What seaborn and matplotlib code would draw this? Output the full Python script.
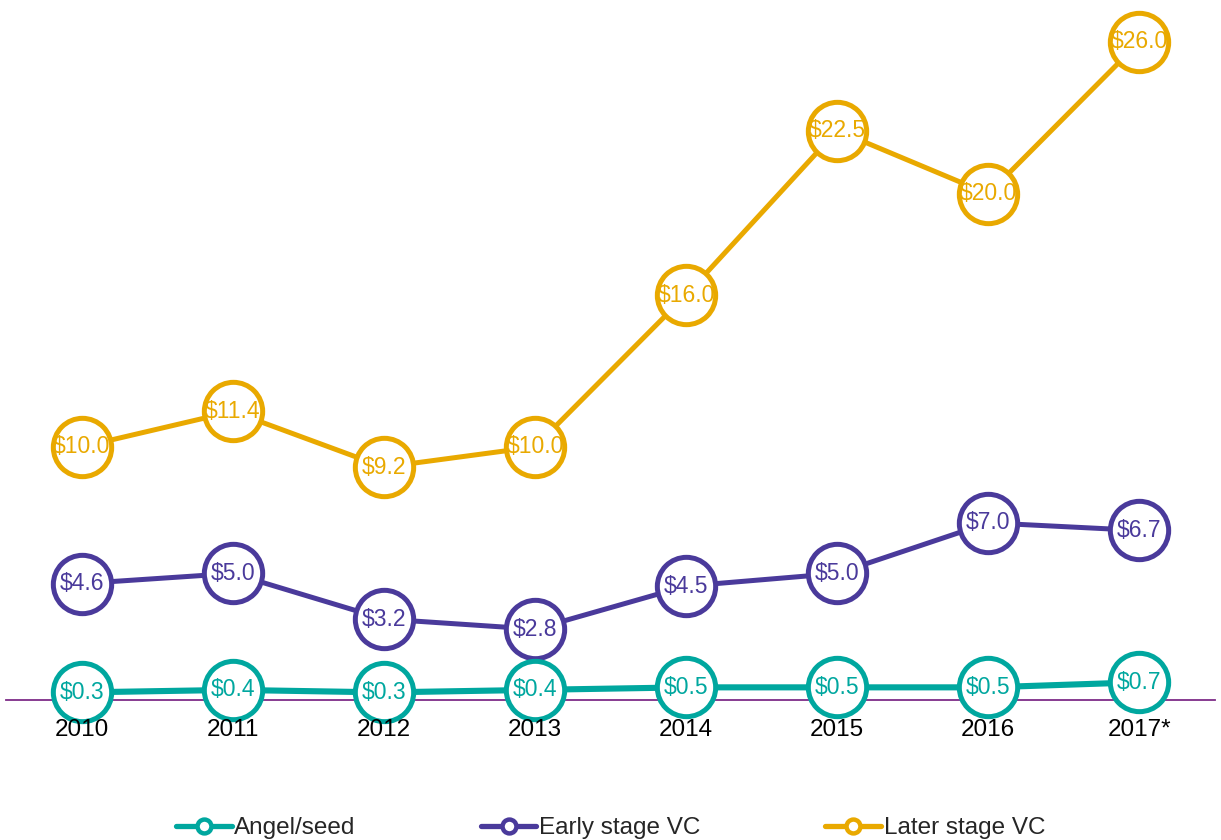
import numpy as np
import pandas as pd
import matplotlib
matplotlib.use("Agg")
import matplotlib.pyplot as plt
from matplotlib.lines import Line2D
import seaborn as sns

years = ["2010", "2011", "2012", "2013", "2014", "2015", "2016", "2017*"]
angel_seed = [0.3, 0.4, 0.3, 0.4, 0.5, 0.5, 0.5, 0.7]
early_vc = [4.6, 5.0, 3.2, 2.8, 4.5, 5.0, 7.0, 6.7]
later_vc = [10.0, 11.4, 9.2, 10.0, 16.0, 22.5, 20.0, 26.0]

series = ["Angel/seed", "Early stage VC", "Later stage VC"]
colors = {"Angel/seed": "#00A79F", "Early stage VC": "#4A3A9B", "Later stage VC": "#E9A900"}
widths = {"Angel/seed": 4.4, "Early stage VC": 3.6, "Later stage VC": 3.6}

df = pd.DataFrame({
    "pos": list(range(len(years))) * 3,
    "value": angel_seed + early_vc + later_vc,
    "stage": [s for s in series for _ in years],
})

sns.set_style("white")
plt.rcParams["font.family"] = ["Liberation Sans", "DejaVu Sans"]

fig = plt.figure(figsize=(12.21, 8.4), dpi=100)
ax = fig.add_axes([6 / 1221, 140 / 840, 1209 / 1221, 696 / 840])

# draw later first so angel sits on top
for i, s in enumerate(reversed(series)):
    sub = df[df["stage"] == s]
    sns.lineplot(data=sub, x="pos", y="value", color=colors[s], ax=ax,
                 marker="o", markersize=42, markerfacecolor="white",
                 markeredgecolor=colors[s], markeredgewidth=3.6,
                 linewidth=widths[s], legend=False, zorder=3 + i,
                 clip_on=False)
    for x, y in zip(sub["pos"], sub["value"]):
        ax.text(x, y, f"${y:.1f}", color=colors[s], fontsize=16.5,
                ha="center", va="center", zorder=10)

ax.set_xlim(-0.5, len(years) - 0.5)
ax.set_ylim(0, 27.5)
ax.set_xticks(range(len(years)))
ax.set_xticklabels(years, fontsize=17.5, color="black")
ax.tick_params(axis="x", length=0, pad=14)
ax.xaxis.set_zorder(20)
ax.set_yticks([])
ax.set_xlabel("")
ax.set_ylabel("")
for side in ["top", "right", "left"]:
    ax.spines[side].set_visible(False)
ax.spines["bottom"].set_color("#7E2C88")
ax.spines["bottom"].set_linewidth(1.3)
ax.spines["bottom"].set_zorder(2)

handles = [Line2D([0], [0], color=colors[s], linewidth=3.8, marker="o",
                  markersize=10, markerfacecolor="white",
                  markeredgecolor=colors[s], markeredgewidth=3.2)
           for s in series]
fig.legend(handles, series, loc="lower center", ncol=3, frameon=False,
           fontsize=17.5, bbox_to_anchor=(0.5, -0.025), handlelength=2.3,
           handletextpad=0.1, columnspacing=5.15)

fig.savefig("out.png", dpi=100)
